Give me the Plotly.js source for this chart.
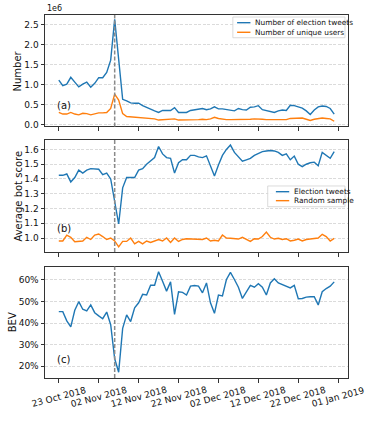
<!DOCTYPE html>
<html>
<head>
<meta charset="utf-8">
<script src="https://cdn.plot.ly/plotly-3.0.1.min.js"></script>
<style>html,body{margin:0;padding:0;background:#fff;}#chart{width:374px;height:421px;}</style>
</head>
<body>
<div id="chart"></div>
<script>
const dates = [
 '2018-10-23','2018-10-24','2018-10-25','2018-10-26','2018-10-27','2018-10-28','2018-10-29','2018-10-30','2018-10-31','2018-11-01',
 '2018-11-02','2018-11-03','2018-11-04','2018-11-05','2018-11-06','2018-11-07','2018-11-08','2018-11-09','2018-11-10','2018-11-11',
 '2018-11-12','2018-11-13','2018-11-14','2018-11-15','2018-11-16','2018-11-17','2018-11-18','2018-11-19','2018-11-20','2018-11-21',
 '2018-11-22','2018-11-23','2018-11-24','2018-11-25','2018-11-26','2018-11-27','2018-11-28','2018-11-29','2018-11-30','2018-12-01',
 '2018-12-02','2018-12-03','2018-12-04','2018-12-05','2018-12-06','2018-12-07','2018-12-08','2018-12-09','2018-12-10','2018-12-11',
 '2018-12-12','2018-12-13','2018-12-14','2018-12-15','2018-12-16','2018-12-17','2018-12-18','2018-12-19','2018-12-20','2018-12-21',
 '2018-12-22','2018-12-23','2018-12-24','2018-12-25','2018-12-26','2018-12-27','2018-12-28','2018-12-29','2018-12-30','2018-12-31'
];
const electionDay = '2018-11-06';

const electionTweets = [
 1120000,980000,1020000,1190000,1070000,950000,1020000,1070000,940000,1040000,
 1180000,1180000,1310000,1620000,2640000,1550000,640000,600000,550000,540000,
 540000,480000,430000,390000,350000,310000,360000,360000,360000,430000,
 310000,310000,310000,360000,380000,390000,410000,380000,400000,450000,
 400000,400000,380000,360000,350000,410000,380000,370000,440000,450000,
 480000,380000,360000,330000,310000,350000,370000,360000,490000,480000,
 440000,420000,350000,260000,370000,450000,470000,460000,410000,270000
];
const uniqueUsers = [
 310000,270000,270000,310000,270000,250000,290000,280000,250000,270000,
 300000,300000,310000,410000,770000,620000,280000,210000,200000,200000,
 190000,180000,170000,160000,150000,120000,130000,140000,140000,150000,
 120000,120000,120000,120000,130000,130000,140000,130000,150000,190000,
 160000,140000,130000,130000,130000,140000,140000,130000,140000,150000,
 150000,140000,130000,130000,120000,120000,130000,130000,160000,160000,
 160000,170000,140000,110000,140000,160000,170000,160000,150000,90000
];
const botElection = [
 1.425,1.425,1.434,1.38,1.41,1.46,1.44,1.46,1.47,1.466,
 1.466,1.43,1.44,1.40,1.25,1.095,1.34,1.41,1.41,1.41,
 1.46,1.47,1.50,1.52,1.545,1.62,1.57,1.545,1.54,1.44,
 1.51,1.53,1.53,1.56,1.56,1.55,1.545,1.557,1.49,1.42,
 1.495,1.56,1.60,1.63,1.58,1.55,1.52,1.53,1.54,1.56,
 1.575,1.585,1.59,1.593,1.59,1.58,1.56,1.57,1.53,1.555,
 1.50,1.484,1.50,1.51,1.514,1.49,1.58,1.56,1.54,1.585
];
const botRandom = [
 0.98,0.98,1.02,1.005,0.975,0.975,0.98,1.005,0.99,1.02,
 1.027,1.01,0.99,1.0,0.98,0.94,0.977,0.977,1.0,0.96,
 0.977,0.96,0.98,0.97,0.98,0.99,0.98,1.0,0.97,1.0,
 0.977,0.99,0.995,0.993,0.993,0.993,0.99,1.0,0.98,0.985,
 0.98,1.02,1.0,0.998,0.993,0.993,1.005,0.99,0.977,0.995,
 0.993,1.01,1.04,1.005,0.993,0.998,0.99,0.995,0.98,0.985,
 0.993,0.98,0.99,0.993,0.995,1.0,1.025,1.01,0.98,0.998
];
const bev = [
 45.3,45.3,41.0,38.2,45.9,49.9,46.4,45.6,48.4,44.8,
 43.3,42.0,45.1,39.2,23.4,17.2,37.5,43.8,40.7,47.1,
 49.4,53.3,53.0,57.5,57.5,63.8,59.4,54.8,59.1,44.0,
 54.5,54.2,53.0,57.1,57.4,57.1,54.0,58.6,49.4,44.5,
 53.0,52.6,60.2,63.5,60.2,56.6,51.4,54.5,57.5,56.6,
 58.2,56.6,53.0,58.6,60.5,58.6,57.9,57.1,56.3,57.5,
 51.3,51.4,52.0,52.2,52.2,48.4,54.5,56.0,57.1,59.1
];
const xTickVals = ['2018-10-23','2018-11-02','2018-11-12','2018-11-22','2018-12-02','2018-12-12','2018-12-22','2019-01-01'];
const xTickText = ['23 Oct 2018','02 Nov 2018','12 Nov 2018','22 Nov 2018','02 Dec 2018','12 Dec 2018','22 Dec 2018','01 Jan 2019'];
const aTickVals = [0,500000,1000000,1500000,2000000,2500000];
const aTickText = ['0.0','0.5','1.0','1.5','2.0','2.5'];
const bTickVals = [1.0,1.1,1.2,1.3,1.4,1.5,1.6];
const cTickVals = [20,30,40,50,60];
const cTickText = ['20%','30%','40%','50%','60%'];
const yTitles = ['Number', 'Average bot score', 'BEV'];
const names = {
  tweets: 'Number of election tweets', users: 'Number of unique users',
  botE: 'Election tweets', botR: 'Random sample'
};

const BLUE = '#1f77b4', ORANGE = '#ff7f0e';
const FONT = 'DejaVu Sans, sans-serif';
const LW = 1.4;

const traces = [
  {x: dates, y: electionTweets, name: names.tweets, xaxis: 'x', yaxis: 'y', mode: 'lines', line: {color: BLUE, width: LW}},
  {x: dates, y: uniqueUsers, name: names.users, xaxis: 'x', yaxis: 'y', mode: 'lines', line: {color: ORANGE, width: LW}},
  {x: dates, y: botElection, name: names.botE, xaxis: 'x2', yaxis: 'y2', mode: 'lines', line: {color: BLUE, width: LW}},
  {x: dates, y: botRandom, name: names.botR, xaxis: 'x2', yaxis: 'y2', mode: 'lines', line: {color: ORANGE, width: LW}},
  {x: dates, y: bev, name: 'BEV', xaxis: 'x3', yaxis: 'y3', mode: 'lines', line: {color: BLUE, width: LW}}
];

const xRange = ['2018-10-19 13:00', '2019-01-03 11:00'];
function xAxis(anchor) {
  return {
    type: 'date', range: xRange, anchor: anchor, domain: [0, 1],
    tickvals: xTickVals, showticklabels: false, ticks: 'outside', ticklen: 3.5, tickwidth: 1, tickcolor: '#333',
    showgrid: false, zeroline: false, showline: true, linecolor: '#333', linewidth: 1, mirror: true
  };
}
function yAxis(domain, range, extra, anchor) {
  return Object.assign({
    domain: domain, range: range, anchor: anchor,
    ticks: 'outside', ticklen: 3.5, tickwidth: 1, tickcolor: '#333',
    showgrid: true, gridcolor: '#d2d2d2', griddash: '3px,1.5px', gridwidth: 0.8,
    zeroline: false, showline: true, linecolor: '#333', linewidth: 1, mirror: true,
    tickfont: {family: FONT, size: 9, color: '#111'}
  }, extra);
}

const layout = {
  width: 374, height: 421,
  margin: {l: 45, r: 26, t: 15, b: 43},
  paper_bgcolor: '#fff', plot_bgcolor: '#fff',
  showlegend: false,
  font: {family: FONT, size: 9, color: '#111'},
  xaxis: xAxis('y'),
  xaxis2: Object.assign(xAxis('y2'), {matches: 'x'}),
  xaxis3: Object.assign(xAxis('y3'), {matches: 'x'}),
  yaxis: yAxis([0.693, 1], [-40000, 2750000], {tickvals: aTickVals, ticktext: aTickText}, 'x'),
  yaxis2: yAxis([0.347, 0.656], [0.905, 1.665], {tickvals: bTickVals, tickformat: '.1f'}, 'x2'),
  yaxis3: yAxis([0, 0.307], [14.5, 66.2], {tickvals: cTickVals, ticktext: cTickText}, 'x3'),
  shapes: [],
  annotations: []
};

// y-axis titles
[[-0.090, 0.8465], [-0.087, 0.5015], [-0.109, 0.1535]].forEach(([px, py], i) => {
  layout.annotations.push({xref: 'paper', yref: 'paper', x: px, y: py, text: yTitles[i], textangle: -90,
    showarrow: false, xanchor: 'center', yanchor: 'middle', font: {family: FONT, size: 10, color: '#111'}});
});

// rotated date labels, centred on their ticks
xTickVals.forEach((d, i) => {
  layout.annotations.push({xref: 'x3', yref: 'y3 domain', x: d, y: 0, yshift: -19, text: xTickText[i],
    textangle: -15, showarrow: false, xanchor: 'center', yanchor: 'middle',
    font: {family: FONT, size: 9, color: '#111'}});
});

// election day markers
[['x','y'],['x2','y2'],['x3','y3']].forEach(([xa, ya]) => {
  layout.shapes.push({type: 'line', xref: xa, yref: ya + ' domain', x0: electionDay, x1: electionDay, y0: 0, y1: 1,
    line: {color: '#8a8a8a', width: 1.5, dash: '4px,2px'}});
});

// manual legends
function addLegend(xa, ya, box, entries) {
  layout.shapes.push({type: 'rect', xref: xa + ' domain', yref: ya + ' domain',
    x0: box[0], x1: box[1], y0: box[2], y1: box[3],
    line: {color: '#d0d0d0', width: 0.8}, fillcolor: 'rgba(255,255,255,0.85)'});
  entries.forEach(e => {
    layout.shapes.push({type: 'line', xref: xa + ' domain', yref: ya + ' domain',
      x0: e.lx0, x1: e.lx1, y0: e.y, y1: e.y, line: {color: e.color, width: LW}});
    layout.annotations.push({xref: xa + ' domain', yref: ya + ' domain', x: e.tx, y: e.y,
      text: e.text, showarrow: false, xanchor: 'left', yanchor: 'middle',
      font: {family: FONT, size: 7.4, color: '#111'}});
  });
}
addLegend('x', 'y', [0.620, 0.990, 0.796, 0.982], [
  {text: names.tweets, color: BLUE, y: 0.931, lx0: 0.634, lx1: 0.678, tx: 0.688},
  {text: names.users, color: ORANGE, y: 0.845, lx0: 0.634, lx1: 0.678, tx: 0.688}
]);
addLegend('x2', 'y2', [0.735, 0.990, 0.404, 0.589], [
  {text: names.botE, color: BLUE, y: 0.538, lx0: 0.762, lx1: 0.806, tx: 0.816},
  {text: names.botR, color: ORANGE, y: 0.458, lx0: 0.762, lx1: 0.806, tx: 0.816}
]);

// panel labels
[['x','y',0.184,'(a)'],['x2','y2',0.214,'(b)'],['x3','y3',0.17,'(c)']].forEach(([xa, ya, yy, t]) => {
  layout.annotations.push({xref: xa + ' domain', yref: ya + ' domain', x: 0.034, y: yy, text: t,
    showarrow: false, xanchor: 'left', yanchor: 'middle', font: {family: FONT, size: 10, color: '#111'}});
});
// offset text
layout.annotations.push({xref: 'x domain', yref: 'y domain', x: 0, y: 1, text: '1e6', showarrow: false,
  xanchor: 'left', yanchor: 'bottom', font: {family: FONT, size: 8, color: '#111'}});

Plotly.newPlot('chart', traces, layout, {displayModeBar: false, staticPlot: true});
</script>
</body>
</html>
